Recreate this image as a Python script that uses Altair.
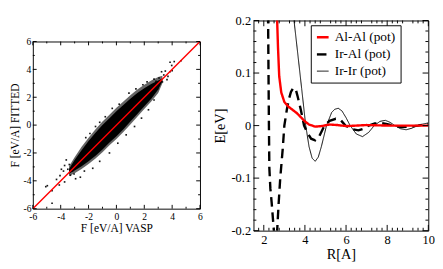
import altair as alt
import pandas as pd

FONT = "Liberation Serif"

# ---------------- left panel: force parity (VASP vs fitted) ----------------
band_x = [-3.4, -3.0, -2.5, -2.0, -1.5, -1.0, -0.5, 0.0, 0.5, 1.0, 1.5, 2.0, 2.5, 3.0, 3.3]
core_hi = [-3.15, -2.5, -1.8, -1.15, -0.55, 0.0, 0.5, 1.0, 1.45, 1.9, 2.3, 2.65, 2.95, 3.2, 3.35]
core_lo = [-3.5, -3.25, -2.95, -2.6, -2.2, -1.75, -1.25, -0.8, -0.3, 0.25, 0.8, 1.35, 1.9, 2.55, 3.15]
halo_hi = [-2.95, -2.3, -1.55, -0.9, -0.3, 0.25, 0.75, 1.25, 1.7, 2.15, 2.55, 2.9, 3.2, 3.45, 3.55]
halo_lo = [-3.65, -3.45, -3.15, -2.8, -2.4, -1.95, -1.45, -1.0, -0.5, 0.05, 0.6, 1.15, 1.7, 2.3, 3.0]

out_x = [3.85, 3.97, 4.15, 4.64, 3.24, 3.4, 3.06, 2.84, 2.6, 2.95, 3.85, 3.51, 3.63, 2.39, 3.3, 3.7, 2.7, 4.0,
         -3.6, -3.95, -4.05, -5.07, -4.62, -4.62, -3.72, -3.38, -3.49, -3.15, -3.04, -2.93, -2.59, -3.72, -2.81,
         -4.96, -3.3, -4.3, -4.1, -3.8,
         -2.2, -1.9, -1.5, -1.2, -0.8, -0.3, 0.2, 0.9, 1.4, 1.9, 2.2,
         -1.7, -1.2, -0.5, 0.1, 0.7, 1.3, 1.8, 2.3, 2.7, -2.3]
out_y = [4.51, 4.28, 4.56, 4.62, 3.83, 3.6, 3.38, 3.15, 2.81, 2.59, 3.83, 3.88, 3.27, 2.59, 3.1, 3.5, 3.3, 3.9,
         -2.5, -3.17, -3.63, -4.42, -4.71, -5.61, -4.08, -2.83, -3.17, -3.29, -3.51, -3.85, -3.74, -2.9, -2.72,
         -4.35, -3.6, -3.9, -4.3, -3.3,
         -0.9, -0.6, -0.1, 0.2, 0.6, 1.2, 1.5, 2.3, 2.6, 2.9, 3.1,
         -3.1, -2.6, -2.0, -1.3, -0.7, -0.1, 0.5, 1.1, 1.8, -3.3]

diag_x = [-6, 6]
diag_y = [-6, 6]

left_major = [-6, -4, -2, 0, 2, 4, 6]
left_minor = [-5, -3, -1, 1, 3, 5]

# ---------------- right panel: pair potentials ----------------
names = ["Al-Al (pot)", "Ir-Al (pot)", "Ir-Ir (pot)"]

alal_r = [2.6, 2.65, 2.69, 2.75, 2.85, 3.0, 3.2, 3.4, 3.6, 3.8, 4.0, 4.2, 4.5, 4.8, 5.2, 5.6, 6.0, 6.5, 7.0, 8.0, 9.0, 10.0]
alal_e = [0.26, 0.2, 0.15, 0.094, 0.063, 0.045, 0.036, 0.03, 0.024, 0.016, 0.008, 0.002, -0.002, -0.001, 0.002, 0.001, -0.001, 0.0, 0.001, 0.0, 0.0, 0.0]

iral_r = [2.19, 2.21, 2.23, 2.25, 2.27, 2.32, 2.38, 2.49, 2.56, 2.65, 2.72, 2.8, 2.92, 3.0, 3.12, 3.22, 3.32, 3.42, 3.48,
          3.56, 3.65, 3.8, 3.96, 4.1, 4.3, 4.5, 4.7, 4.95, 5.2, 5.5, 5.75, 5.97, 6.3, 6.6, 6.85, 7.1, 7.4, 7.68, 7.95,
          8.3, 8.7, 9.1, 9.5, 9.8, 10.0]
iral_e = [0.3, 0.2, 0.1, 0.0, -0.08, -0.12, -0.145, -0.2, -0.215, -0.2, -0.15, -0.1, -0.045, 0.0, 0.03, 0.05, 0.064, 0.071, 0.072,
          0.068, 0.055, 0.03, 0.0, -0.012, -0.025, -0.028, -0.02, 0.0, 0.009, 0.013, 0.010, 0.0, -0.007, -0.009, -0.006, 0.0, 0.004, 0.005, 0.003,
          0.0, -0.003, -0.002, 0.0, 0.002, 0.003]

irir_r = [3.35, 3.47, 3.6, 3.84, 4.04, 4.2, 4.35, 4.5, 4.65, 4.8, 5.05, 5.3, 5.45, 5.62, 5.8, 6.0, 6.2, 6.5, 6.8, 7.1,
          7.37, 7.65, 7.91, 8.15, 8.37, 8.65, 8.92, 9.2, 9.46, 9.75, 10.0]
irir_e = [0.24, 0.2, 0.155, 0.071, 0.0, -0.04, -0.062, -0.068, -0.06, -0.04, 0.0, 0.025, 0.031, 0.033, 0.028, 0.015, 0.0, -0.016, -0.021, -0.013,
          0.0, 0.008, 0.010, 0.006, 0.0, -0.006, -0.008, -0.005, 0.0, 0.003, 0.005]

r_major = [2, 4, 6, 8, 10]
r_minor = [1.75, 2.25, 2.5, 2.75, 3.25, 3.5, 3.75, 4.25, 4.5, 4.75, 5.25, 5.5, 5.75, 6.25, 6.5, 6.75,
           7.25, 7.5, 7.75, 8.25, 8.5, 8.75, 9.25, 9.5, 9.75]
e_major = [-0.2, -0.1, 0.0, 0.1, 0.2]
e_minor = [-0.18, -0.16, -0.14, -0.12, -0.08, -0.06, -0.04, -0.02, 0.02, 0.04, 0.06, 0.08,
           0.12, 0.14, 0.16, 0.18]

# ---------------- tables ----------------
band = pd.DataFrame({"x": band_x, "chi": core_hi, "clo": core_lo, "hhi": halo_hi, "hlo": halo_lo})
outl = pd.DataFrame({"x": out_x, "y": out_y})
diag = pd.DataFrame({"x": diag_x, "y": diag_y})
pot = pd.concat([
    pd.DataFrame({"r": alal_r, "e": alal_e, "series": names[0]}),
    pd.DataFrame({"r": iral_r, "e": iral_e, "series": names[1]}),
    pd.DataFrame({"r": irir_r, "e": irir_e, "series": names[2]}),
], ignore_index=True)

LW, LH = 175, 175
RW, RH = 183, 220

xs_l = alt.Scale(domain=[-6, 6], nice=False, zero=False)
ys_l = alt.Scale(domain=[-6, 6], nice=False, zero=False)
xs_r = alt.Scale(domain=[1.5, 10], nice=False, zero=False)
ys_r = alt.Scale(domain=[-0.2, 0.2], nice=False, zero=False)


def tick_rules(values, xs, ys, W, H, major_len, minor_vals, minor_len, channel):
    """Inward ticks on both sides of the frame for one channel."""
    layers = []
    for vals, ln in ((values, major_len), (minor_vals, minor_len)):
        df = pd.DataFrame({"t": vals})
        for side in (0, 1):
            if channel == "x":
                y0 = H if side == 0 else 0
                y1 = H - ln if side == 0 else ln
                layers.append(alt.Chart(df).mark_rule(color="black", strokeWidth=1).encode(
                    x=alt.X("t:Q", scale=xs, axis=None), y=alt.value(y0), y2=alt.value(y1)))
            else:
                x0 = 0 if side == 0 else W
                x1 = ln if side == 0 else W - ln
                layers.append(alt.Chart(df).mark_rule(color="black", strokeWidth=1).encode(
                    y=alt.Y("t:Q", scale=ys, axis=None), x=alt.value(x0), x2=alt.value(x1)))
    return layers


# ---- left panel ----
int_expr = "datum.value < 0 ? '-' + format(-datum.value, 'd') : format(datum.value, 'd')"
left_label = alt.Chart(diag).mark_point(opacity=0).encode(
    x=alt.X("x:Q", scale=xs_l, axis=alt.Axis(orient="bottom", values=left_major, ticks=False, domain=False,
                                              grid=False, labelFlush=False, labelExpr=int_expr, labelFontSize=10,
                                              labelPadding=3, title="F [eV/A] VASP", titleFontSize=12,
                                              titlePadding=2)),
    y=alt.Y("y:Q", scale=ys_l, axis=alt.Axis(orient="left", values=left_major, ticks=False, domain=False,
                                              grid=False, labelFlush=False, labelExpr=int_expr, labelFontSize=10,
                                              labelPadding=2, title="F [eV/A] FITTED", titleFontSize=12,
                                              titlePadding=2)),
)
halo = alt.Chart(band).mark_area(color="black", opacity=0.6).encode(
    x=alt.X("x:Q", scale=xs_l, axis=None), y=alt.Y("hlo:Q", scale=ys_l, axis=None), y2="hhi:Q")
core = alt.Chart(band).mark_area(color="black").encode(
    x=alt.X("x:Q", scale=xs_l, axis=None), y=alt.Y("clo:Q", scale=ys_l, axis=None), y2="chi:Q")
pts = alt.Chart(outl).mark_square(size=3, color="black", opacity=0.9).encode(
    x=alt.X("x:Q", scale=xs_l, axis=None), y=alt.Y("y:Q", scale=ys_l, axis=None))
line = alt.Chart(diag).mark_line(color="#ff0000", strokeWidth=1.5).encode(
    x=alt.X("x:Q", scale=xs_l, axis=None), y=alt.Y("y:Q", scale=ys_l, axis=None))

left = alt.layer(
    left_label, halo, core, pts, line,
    *tick_rules(left_major, xs_l, ys_l, LW, LH, 4, left_minor, 2, "x"),
    *tick_rules(left_major, xs_l, ys_l, LW, LH, 4, left_minor, 2, "y"),
).resolve_axis(x="independent", y="independent").properties(width=LW, height=LH)

spacer = alt.Chart(diag).mark_point(opacity=0, size=0).encode(
    x=alt.value(0), y=alt.value(0)
).properties(width=LW, height=5, view=alt.ViewBackground(stroke="transparent"))

# ---- right panel ----
e_expr = ("datum.value == 0 ? '0' : (datum.value < 0 ? '-' + format(-datum.value, '.1f') "
          ": format(datum.value, '.1f'))")
leg = alt.Legend(orient="none", legendX=60, legendY=5, title=None, symbolType="stroke",
                 strokeColor="black", fillColor="white", padding=5, labelFont=FONT, labelFontSize=14,
                 symbolSize=150, rowPadding=3, labelOffset=5, labelColor="black")

right_label = alt.Chart(pot).mark_point(opacity=0, clip=True).encode(
    x=alt.X("r:Q", scale=xs_r, axis=alt.Axis(orient="bottom", values=r_major, ticks=False, domain=False,
                                              grid=False, labelFlush=False, labelFontSize=13, labelPadding=3,
                                              title="R[A]", titleFontSize=15, titlePadding=1)),
    y=alt.Y("e:Q", scale=ys_r, axis=alt.Axis(orient="left", values=e_major, ticks=False, domain=False,
                                              grid=False, labelFlush=False, labelExpr=e_expr, labelFontSize=13,
                                              labelPadding=3, title="E[eV]", titleFontSize=15,
                                              titlePadding=4)),
)


def series_layer(name):
    return alt.Chart(pot).transform_filter(alt.datum.series == name).mark_line(clip=True).encode(
        x=alt.X("r:Q", scale=xs_r, axis=None),
        y=alt.Y("e:Q", scale=ys_r, axis=None),
        color=alt.Color("series:N", scale=alt.Scale(domain=names, range=["#ff0000", "#000000", "#000000"]),
                        legend=leg),
        strokeDash=alt.StrokeDash("series:N", scale=alt.Scale(domain=names, range=[[1, 0], [10, 6], [1, 0]]),
                                  legend=leg),
        strokeWidth=alt.StrokeWidth("series:N", scale=alt.Scale(type="ordinal", domain=names,
                                                                range=[2.5, 2.5, 1]),
                                    legend=leg),
    )


right = alt.layer(
    right_label,
    series_layer(names[2]), series_layer(names[1]), series_layer(names[0]),
    *tick_rules(r_major, xs_r, ys_r, RW, RH, 6, r_minor, 3, "x"),
    *tick_rules(e_major, xs_r, ys_r, RW, RH, 6, e_minor, 3, "y"),
).resolve_axis(x="independent", y="independent").properties(width=RW, height=RH)

chart = alt.hconcat(
    alt.vconcat(spacer, left, spacing=10),
    right,
    spacing=8,
).resolve_scale(
    color="independent", strokeDash="independent", strokeWidth="independent"
).properties(padding=0, background="white").configure_view(
    stroke="black", strokeWidth=1
).configure_axis(
    labelFont=FONT, titleFont=FONT, titleFontWeight="normal", labelColor="black", titleColor="black"
).configure_legend(labelFont=FONT)

chart.save("out.html", embed_options={"renderer": "svg", "actions": False})
